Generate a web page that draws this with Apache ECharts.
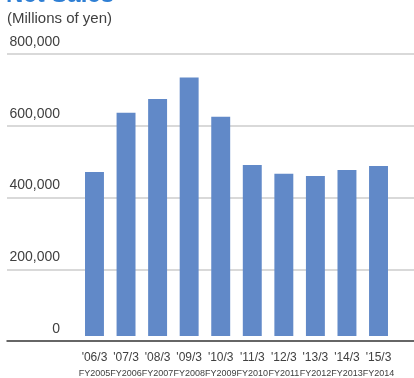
<!DOCTYPE html>
<html>
<head>
<meta charset="utf-8">
<script src="https://cdn.jsdelivr.net/npm/echarts@6/dist/echarts.min.js"></script>
<style>
html,body{margin:0;padding:0;background:#fff;}
#c{width:414px;height:378px;}
</style>
</head>
<body>
<div id="c"></div>
<script>
var periods = ["'06/3", "'07/3", "'08/3", "'09/3", "'10/3", "'11/3", "'12/3", "'13/3", "'14/3", "'15/3"];
var fiscalYears = ["FY2005", "FY2006", "FY2007", "FY2008", "FY2009", "FY2010", "FY2011", "FY2012", "FY2013", "FY2014"];
var netSales = [465000, 633000, 672000, 733000, 622000, 485000, 460000, 454000, 471000, 482000];
var yTicks = [0, 200000, 400000, 600000, 800000];

var categories = periods.map(function (p, i) { return p + '\n' + fiscalYears[i]; });
var chart = echarts.init(document.getElementById('c'), null, {renderer: 'canvas'});
var font = 'Liberation Sans, Arial, sans-serif';

chart.setOption({
  animation: false,
  backgroundColor: '#ffffff',
  title: [
    {text: 'Net Sales', left: 6, top: -17, padding: 0,
     textStyle: {fontFamily: font, fontSize: 24, fontWeight: 'bold', color: '#2f7fd4'}},
    {text: '(Millions of yen)', left: 7, top: 11, padding: 0,
     textStyle: {fontFamily: font, fontSize: 15, fontWeight: 'normal', color: '#404040'}}
  ],
  grid: [
    {left: 7, right: 0, top: 54, bottom: 37},
    {left: 78.7, right: 19.7, top: 54, bottom: 37}
  ],
  xAxis: [
    {gridIndex: 0, type: 'value', min: 0, max: 1,
     axisLine: {show: true, onZero: false, lineStyle: {color: '#404040', width: 1.5}},
     axisTick: {show: false}, axisLabel: {show: false}, splitLine: {show: false}},
    {gridIndex: 1, type: 'category', data: categories,
     axisLine: {show: false}, axisTick: {show: false},
     axisLabel: {
       interval: 0, margin: 14,
       formatter: function (v) { var s = v.split('\n'); return '{a|' + s[0] + '}\n{b|' + s[1] + '}'; },
       rich: {
         a: {fontFamily: font, fontSize: 12, color: '#404040', lineHeight: 16},
         b: {fontFamily: font, fontSize: 9, color: '#404040', lineHeight: 15}
       }
     }}
  ],
  yAxis: [
    {gridIndex: 0, type: 'value', min: 0, max: 800000, interval: 200000,
     axisLine: {show: false}, axisTick: {show: false},
     splitLine: {show: true, lineStyle: {color: '#d9d9d9', width: 2}},
     axisLabel: {
       inside: true, margin: 53, align: 'right', verticalAlign: 'bottom',
       padding: [0, 0, 5, 0],
       fontFamily: font, fontSize: 14, color: '#404040',
       formatter: function (v) { return v.toLocaleString('en-US'); }
     }},
    {gridIndex: 1, type: 'value', min: 0, max: 800000, interval: 200000,
     show: false, splitLine: {show: false}}
  ],
  series: [
    {type: 'bar', xAxisIndex: 1, yAxisIndex: 1, data: netSales,
     barCategoryGap: '40%', itemStyle: {color: '#6189c8'}}
  ]
});
</script>
</body>
</html>
